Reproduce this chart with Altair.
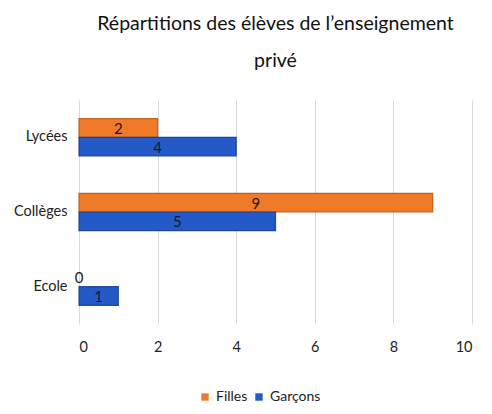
import altair as alt
import pandas as pd

categories = ["Lycées", "Collèges", "Ecole"]
filles = [2, 9, 0]
garcons = [4, 5, 1]
series = ["Filles", "Garçons"]

rows = []
for c, f, g in zip(categories, filles, garcons):
    rows.append({"cat": c, "serie": "Filles", "val": f})
    rows.append({"cat": c, "serie": "Garçons", "val": g})
df = pd.DataFrame(rows)

FONT = "Lato, sans-serif"

y = alt.Y("cat:N", sort=categories, title=None,
          scale=alt.Scale(paddingInner=0.5, paddingOuter=0.25),
          axis=alt.Axis(domain=False, ticks=False, labelFontSize=14.5, labelColor="#222222",
                        labelFont=FONT, labelPadding=12))
yoff = alt.YOffset("serie:N", sort=series, scale=alt.Scale(paddingInner=0, paddingOuter=0))

bars = alt.Chart(df).transform_filter("datum.val > 0").mark_bar(
    strokeWidth=1.2, strokeOpacity=0.9
).encode(
    x=alt.X("val:Q", title=None, scale=alt.Scale(domain=[0, 10]),
            axis=alt.Axis(values=[0, 2, 4, 6, 8, 10], domain=False, ticks=False,
                          labelFontSize=14.5, labelColor="#222222", labelFont=FONT,
                          labelPadding=16, gridColor="#d9d9d9", gridWidth=1)),
    y=y,
    yOffset=yoff,
    color=alt.Color("serie:N", sort=series,
                    scale=alt.Scale(domain=series, range=["#F07A28", "#2459C8"]),
                    legend=alt.Legend(title=None, orient="none", direction="horizontal",
                                      legendX=119, legendY=290, symbolType="square",
                                      symbolSize=55, labelFontSize=14, labelFont=FONT,
                                      labelColor="#222222", symbolStrokeWidth=0,
                                      columnPadding=4, labelOffset=4)),
    stroke=alt.Stroke("serie:N", sort=series,
                      scale=alt.Scale(domain=series, range=["#B85A12", "#163F95"]),
                      legend=None),
)

labels = alt.Chart(df).transform_calculate(mid="datum.val/2").mark_text(
    fontSize=15, font=FONT, color="#1a1a1a", baseline="middle", dy=1
).encode(
    x="mid:Q",
    y=alt.Y("cat:N", sort=categories),
    yOffset=yoff,
    text="val:Q",
)

chart = alt.layer(bars, labels).properties(
    width=393, height=224,
    title=alt.TitleParams(["Répartitions des élèves de l’enseignement", "privé"],
                          fontSize=19.5, font=FONT, fontWeight="normal", color="#111111",
                          lineHeight=37, offset=32, anchor="middle", dy=3),
).configure_view(stroke=None)

chart.save("out.html", embed_options={"renderer": "svg", "actions": False})
